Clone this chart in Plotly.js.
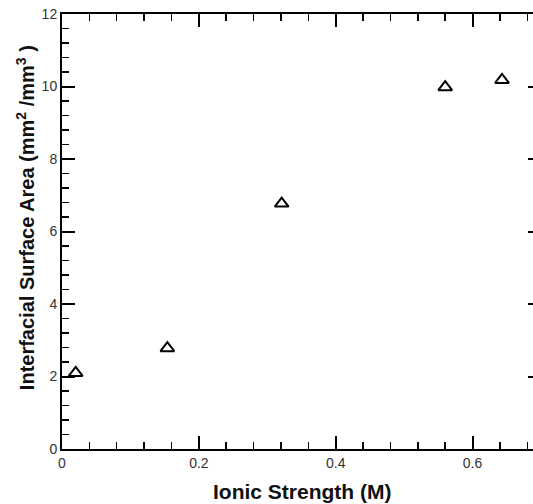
<!DOCTYPE html>
<html>
<head>
<meta charset="utf-8">
<script src="https://cdn.plot.ly/plotly-3.0.1.min.js"></script>
<style>
html,body{margin:0;padding:0;overflow:hidden;background:#fff;width:533px;height:504px;}
#chart{width:560px;height:504px;}
</style>
</head>
<body>
<div id="chart"></div>
<script>
// Data
var ionicStrength = [0.02, 0.154, 0.321, 0.56, 0.643];
var surfaceArea = [2.1, 2.78, 6.77, 9.98, 10.18];
var xTitle = 'Ionic Strength (M)';
var yTitle = 'Interfacial Surface Area (mm<sup>2</sup> /mm<sup>3</sup> )';

var trace = {
  x: ionicStrength,
  y: surfaceArea,
  type: 'scatter',
  mode: 'markers',
  marker: {symbol: 'triangle-up-open', size: 12, color: '#000', line: {width: 2, color: '#000'}},
  showlegend: false
};

var tickFont = {family: 'Liberation Sans, Arial, sans-serif', size: 14, color: '#333'};
var xTitleFont = {family: 'Liberation Sans, Arial, sans-serif', size: 21, color: '#111', weight: 'bold'};
var yTitleFont = {family: 'Liberation Sans, Arial, sans-serif', size: 20, color: '#111', weight: 'bold'};

var layout = {
  width: 560,
  height: 504,
  margin: {l: 62, r: 19, t: 14, b: 55, pad: 0},
  paper_bgcolor: '#fff',
  plot_bgcolor: '#fff',
  xaxis: {
    range: [0, 0.7],
    dtick: 0.2, tick0: 0,
    showgrid: false, zeroline: false,
    showline: true, linewidth: 2, linecolor: '#000', mirror: 'ticks',
    ticks: 'inside', ticklen: 13, tickwidth: 2, tickcolor: '#000',
    minor: {dtick: 0.04, ticks: 'inside', ticklen: 7, tickwidth: 1.5, tickcolor: '#000', showgrid: false},
    tickfont: tickFont
  },
  yaxis: {
    range: [0, 12],
    dtick: 2, tick0: 0,
    showgrid: false, zeroline: false,
    showline: true, linewidth: 2, linecolor: '#000', mirror: 'ticks',
    ticks: 'inside', ticklen: 13, tickwidth: 2, tickcolor: '#000',
    minor: {dtick: 0.4, ticks: 'inside', ticklen: 7, tickwidth: 1.5, tickcolor: '#000', showgrid: false},
    tickfont: tickFont
  },
  annotations: [
    {text: xTitle, xref: 'paper', yref: 'paper', x: 0.5, y: -0.0966, xanchor: 'center', yanchor: 'middle', showarrow: false, font: xTitleFont},
    {text: yTitle, xref: 'paper', yref: 'paper', x: -0.077, y: 0.531, xanchor: 'center', yanchor: 'middle', textangle: -90, showarrow: false, font: yTitleFont}
  ]
};

Plotly.newPlot('chart', [trace], layout, {displayModeBar: false, staticPlot: true});
</script>
</body>
</html>
